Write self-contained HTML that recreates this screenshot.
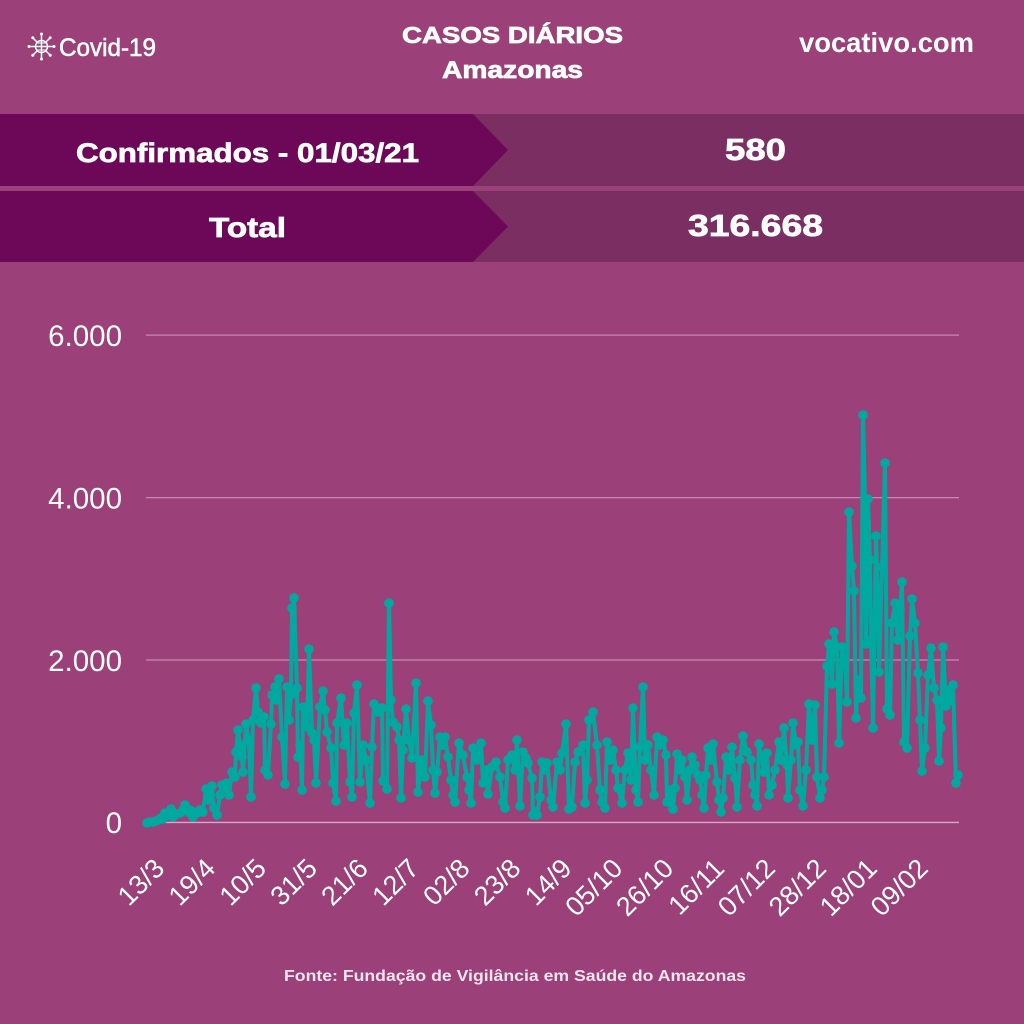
<!DOCTYPE html>
<html>
<head>
<meta charset="utf-8">
<style>
html,body{margin:0;padding:0;background:#9b4078;}
svg{display:block;}
text{font-family:"Liberation Sans",Arial,sans-serif;}
</style>
</head>
<body>
<svg width="1024" height="1024" viewBox="0 0 1024 1024" xmlns="http://www.w3.org/2000/svg">
<defs>
<marker id="dot" markerUnits="userSpaceOnUse" markerWidth="12" markerHeight="12" refX="6" refY="6">
<circle cx="6" cy="6" r="4.8" fill="#00a99f"/>
</marker>
</defs>
<rect x="0" y="0" width="1024" height="1024" fill="#9b4078"/>

<!-- header -->
<g stroke="#fff" stroke-width="1.5" fill="none" stroke-linecap="round">
<circle cx="41.5" cy="46.5" r="6"/>
<line x1="35.5" y1="46.5" x2="47.5" y2="46.5"/>
<line x1="41.5" y1="40.5" x2="41.5" y2="52.5"/>
<line x1="37" y1="43" x2="46" y2="43" stroke-width="1"/>
<line x1="37" y1="50" x2="46" y2="50" stroke-width="1"/>
<line x1="41.5" y1="40.5" x2="41.5" y2="35"/>
<line x1="41.5" y1="52.5" x2="41.5" y2="58"/>
<line x1="35.5" y1="46.5" x2="30" y2="46.5"/>
<line x1="47.5" y1="46.5" x2="53" y2="46.5"/>
<line x1="37.3" y1="42.3" x2="33.4" y2="38.4"/>
<line x1="45.7" y1="42.3" x2="49.6" y2="38.4"/>
<line x1="37.3" y1="50.7" x2="33.4" y2="54.6"/>
<line x1="45.7" y1="50.7" x2="49.6" y2="54.6"/>
</g>
<g fill="#fff">
<circle cx="41.5" cy="34" r="1.5"/><circle cx="41.5" cy="59" r="1.5"/>
<circle cx="29" cy="46.5" r="1.5"/><circle cx="54" cy="46.5" r="1.5"/>
<circle cx="32.8" cy="37.8" r="1.5"/><circle cx="50.2" cy="37.8" r="1.5"/>
<circle cx="32.8" cy="55.2" r="1.5"/><circle cx="50.2" cy="55.2" r="1.5"/>
</g>
<text x="59" y="56" font-size="25" fill="#fff" stroke="#fff" stroke-width="0.6" textLength="97" lengthAdjust="spacingAndGlyphs">Covid-19</text>
<text x="402" y="43" font-size="23" font-weight="bold" fill="#fff" stroke="#fff" stroke-width="0.7" textLength="221" lengthAdjust="spacingAndGlyphs">CASOS DIÁRIOS</text>
<text x="442" y="78" font-size="24" font-weight="bold" fill="#fff" stroke="#fff" stroke-width="0.7" textLength="141" lengthAdjust="spacingAndGlyphs">Amazonas</text>
<text x="799" y="52" font-size="28" font-weight="bold" fill="#fff" textLength="175" lengthAdjust="spacingAndGlyphs">vocativo.com</text>

<!-- banners -->
<rect x="0" y="114" width="1024" height="72" fill="#7b2e62"/>
<polygon points="0,114 473,114 508,150 473,186 0,186" fill="#6d0758"/>
<rect x="0" y="191" width="1024" height="71" fill="#7b2e62"/>
<polygon points="0,191 473,191 508,226.5 473,262 0,262" fill="#6d0758"/>
<text x="76" y="162" font-size="27" font-weight="bold" fill="#fff" stroke="#fff" stroke-width="0.7" textLength="343" lengthAdjust="spacingAndGlyphs">Confirmados - 01/03/21</text>
<text x="209" y="237" font-size="28" font-weight="bold" fill="#fff" stroke="#fff" stroke-width="0.7" textLength="77" lengthAdjust="spacingAndGlyphs">Total</text>
<text x="725" y="160" font-size="31" font-weight="bold" fill="#fff" stroke="#fff" stroke-width="0.7" textLength="61" lengthAdjust="spacingAndGlyphs">580</text>
<text x="688" y="236" font-size="31" font-weight="bold" fill="#fff" stroke="#fff" stroke-width="0.7" textLength="135" lengthAdjust="spacingAndGlyphs">316.668</text>

<!-- grid -->
<g stroke="#c38bb0" stroke-width="1.2">
<line x1="146" y1="335.1" x2="959" y2="335.1"/>
<line x1="146" y1="497.6" x2="959" y2="497.6"/>
<line x1="146" y1="660" x2="959" y2="660"/>
</g>
<line x1="146" y1="822.4" x2="959" y2="822.4" stroke="#d6aac6" stroke-width="1.4"/>

<!-- y labels -->
<g font-size="29.5" fill="#fff" text-anchor="end">
<text x="122" y="346">6.000</text>
<text x="122" y="508.5">4.000</text>
<text x="122" y="671">2.000</text>
<text x="122" y="833">0</text>
</g>

<!-- x labels -->
<g font-size="27" fill="#fff" text-anchor="end">
<text transform="translate(166,870) rotate(-45)">13/3</text>
<text transform="translate(216.9,870) rotate(-45)">19/4</text>
<text transform="translate(267.8,870) rotate(-45)">10/5</text>
<text transform="translate(318.7,870) rotate(-45)">31/5</text>
<text transform="translate(369.6,870) rotate(-45)">21/6</text>
<text transform="translate(420.5,870) rotate(-45)">12/7</text>
<text transform="translate(471.4,870) rotate(-45)">02/8</text>
<text transform="translate(522.3,870) rotate(-45)">23/8</text>
<text transform="translate(573.2,870) rotate(-45)">14/9</text>
<text transform="translate(624.1,870) rotate(-45)">05/10</text>
<text transform="translate(675,870) rotate(-45)">26/10</text>
<text transform="translate(725.9,870) rotate(-45)">16/11</text>
<text transform="translate(776.8,870) rotate(-45)">07/12</text>
<text transform="translate(827.7,870) rotate(-45)">28/12</text>
<text transform="translate(878.6,870) rotate(-45)">18/01</text>
<text transform="translate(929.5,870) rotate(-45)">09/02</text>
</g>

<!-- data -->
<polyline fill="none" stroke="#00a99f" stroke-width="4" stroke-linejoin="round" stroke-linecap="round"
marker-start="url(#dot)" marker-mid="url(#dot)" marker-end="url(#dot)"
points="147,823 150,822 153,822 156,821 158,820 161,818 163,819 165,813 168,815 171,809 173,817 176,814 180,813 183,810 185,805 188,812 190,810 193,817 195,812 197,813 200,810 203,812 206,789 208,800 210,795 212,786 214,808 217,815 220,795 222,785 225,788 227,783 229,795 232,772 235,777 236,752 238,730 240,745 242,757 243,772 246,724 249,740 251,797 253,720 256,688 258,712 261,723 264,717 265,770 268,775 271,724 272,695 275,687 277,700 279,679 282,737 285,784 287,687 289,720 291,695 292,608 294,598 297,688 298,757 300,745 302,790 303,707 307,727 309,649 312,733 314,740 316,783 320,707 323,691 325,710 327,732 331,748 333,783 336,801 337,723 341,698 344,745 347,723 350,782 352,797 354,713 357,685 360,782 363,745 366,760 370,803 372,747 374,704 378,712 382,708 383,781 387,789 389,603 391,700 393,722 397,727 399,740 401,798 403,750 406,709 409,740 412,758 416,683 418,792 422,760 425,777 428,701 431,725 433,770 435,793 437,772 440,737 443,745 445,737 448,757 451,780 453,795 455,802 459,743 463,755 467,777 469,790 471,803 473,748 477,760 481,743 483,783 486,770 488,794 492,767 496,762 500,777 503,802 505,808 508,760 512,755 515,770 517,740 520,806 523,752 526,758 528,763 532,778 533,815 535,812 537,815 540,797 542,762 545,770 547,763 551,800 553,807 557,762 560,770 562,753 566,724 569,809 572,807 575,762 578,752 583,745 585,803 587,780 589,720 593,712 597,745 600,790 602,802 605,808 607,742 610,760 613,750 616,770 618,788 622,803 625,770 628,753 631,780 633,708 636,790 638,802 640,747 643,687 645,760 648,745 651,770 654,795 657,737 660,745 663,740 666,755 667,802 670,790 673,809 675,788 677,754 680,770 682,760 685,777 687,800 690,770 692,757 695,765 698,775 700,780 702,795 704,808 706,775 708,748 711,760 713,744 717,782 719,800 721,812 723,798 726,757 729,770 732,747 735,778 737,807 740,760 743,736 747,752 751,760 753,785 755,795 757,806 759,744 762,760 764,772 767,753 769,795 772,785 775,770 779,742 781,760 784,728 787,765 788,798 791,760 793,723 796,745 798,742 800,790 803,806 806,770 809,704 812,740 815,705 817,777 820,798 822,790 824,777 827,666 829,644 832,684 834,632 837,647 839,743 842,647 845,660 847,702 849,512 852,566 854,591 856,718 858,680 861,698 863,415 865,500 866,644 868,499 870,560 871,640 873,728 876,536 878,600 879,672 882,567 885,463 887,709 890,715 892,623 895,603 898,640 900,610 902,582 904,742 907,748 910,636 912,599 915,623 918,673 920,720 922,771 925,748 928,675 931,648 934,688 937,700 939,761 941,728 943,647 946,706 949,690 951,700 953,685 956,783 958,775"/>

<!-- footer -->
<text x="284" y="981" font-size="16" font-weight="bold" fill="#f3e4ee" textLength="462" lengthAdjust="spacingAndGlyphs">Fonte: Fundação de Vigilância em Saúde do Amazonas</text>
</svg>
</body>
</html>
